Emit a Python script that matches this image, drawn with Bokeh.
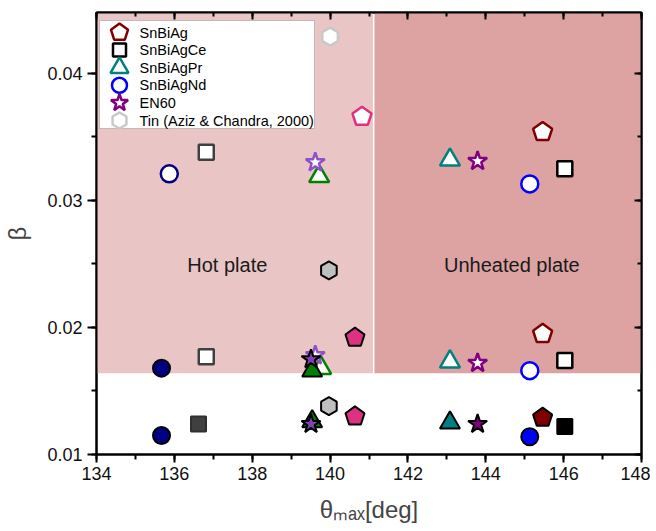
import math
from bokeh.plotting import figure
from bokeh.models import (BoxAnnotation, Label, LinearAxis, SingleIntervalTicker,
                          PrintfTickFormatter, CustomJSTickFormatter, Range1d)
from bokeh.embed import file_html
from bokeh.resources import INLINE

# ---------------- data (theta_max [deg], beta) ----------------
ag_hot_open_x = [140.82]
ag_hot_open_y = [0.0366]
ag_hot_fill_x = [140.64, 140.64]
ag_hot_fill_y = [0.0192, 0.0130]
ag_unh_open_x = [145.46, 145.46]
ag_unh_open_y = [0.0354, 0.0195]
ag_unh_fill_x = [145.46]
ag_unh_fill_y = [0.0129]

ce_hot_open_x = [136.82, 136.82]
ce_hot_open_y = [0.0338, 0.0177]
ce_hot_fill_x = [136.62]
ce_hot_fill_y = [0.0124]
ce_unh_open_x = [146.03, 146.03]
ce_unh_open_y = [0.0325, 0.0174]
ce_unh_fill_x = [146.03]
ce_unh_fill_y = [0.0122]

pr_hot_open_x = [139.72, 139.77]
pr_hot_open_y = [0.0319, 0.0168]
pr_hot_fill_x = [139.54, 139.54]
pr_hot_fill_y = [0.0166, 0.0126]
pr_unh_open_x = [143.08, 143.08]
pr_unh_open_y = [0.0332, 0.0173]
pr_unh_fill_x = [143.08]
pr_unh_fill_y = [0.0125]

nd_hot_open_x = [135.87]
nd_hot_open_y = [0.0321]
nd_hot_fill_x = [135.67, 135.67]
nd_hot_fill_y = [0.0168, 0.0115]
nd_unh_open_x = [145.13, 145.13]
nd_unh_open_y = [0.0313, 0.0166]
nd_unh_fill_x = [145.13]
nd_unh_fill_y = [0.0114]

en_hot_open_x = [139.62, 139.62]
en_hot_open_y = [0.0330, 0.0178]
en_hot_fill_x = [139.51, 139.51]
en_hot_fill_y = [0.0175, 0.0124]
en_unh_open_x = [143.79, 143.79]
en_unh_open_y = [0.0331, 0.0172]
en_unh_fill_x = [143.79]
en_unh_fill_y = [0.0124]

tin_open_x = [140.0]
tin_open_y = [0.0429]
tin_fill_x = [139.97, 139.97]
tin_fill_y = [0.0245, 0.0138]

x_ticks_interval = 2
y_ticks_interval = 0.01
region_split_x = 141.12
region_bottom_y = 0.0164

legend_labels = ["SnBiAg", "SnBiAgCe", "SnBiAgPr", "SnBiAgNd", "EN60",
                 "Tin (Aziz & Chandra, 2000)"]

FONT = "Liberation Sans"
W, H = 650, 531
BL, BR, BT, BB = 96, 9, 12, 77
FW, FH = W - BL - BR, H - BT - BB

p = figure(width=W, height=H, x_range=Range1d(134, 148), y_range=Range1d(0.01, 0.0448),
           output_backend="svg", toolbar_location=None,
           min_border_left=BL, min_border_right=BR, min_border_top=BT, min_border_bottom=BB,
           x_axis_location=None, y_axis_location=None)
p.xgrid.visible = False
p.ygrid.visible = False
p.outline_line_color = "black"
p.outline_line_width = 2
p.background_fill_color = "white"
# pixel-like ranges for the legend panel
p.extra_x_ranges = {"legx": Range1d(0, FW)}
p.extra_y_ranges = {"legy": Range1d(0, FH)}

# shaded regions
p.add_layout(BoxAnnotation(left=134, right=region_split_x - 0.02, bottom=region_bottom_y, top=0.0448,
                           fill_color="#e9c5c5", fill_alpha=1, line_alpha=0, level="underlay"))
p.add_layout(BoxAnnotation(left=region_split_x + 0.02, right=148, bottom=region_bottom_y, top=0.0448,
                           fill_color="#dda3a3", fill_alpha=1, line_alpha=0, level="underlay"))

def style_axis(ax, labels=True, inward=False):
    ax.axis_line_width = 2
    ax.major_tick_line_width = 2
    ax.minor_tick_line_width = 2
    if inward:
        ax.major_tick_in = 7
        ax.major_tick_out = 0
        ax.minor_tick_in = 4
        ax.minor_tick_out = 0
    else:
        ax.major_tick_in = 0
        ax.major_tick_out = 9
        ax.minor_tick_in = 0
        ax.minor_tick_out = 5
    ax.major_label_text_font = FONT
    ax.major_label_text_font_size = "18px"
    ax.major_label_text_color = "#111111"
    if not labels:
        ax.formatter = CustomJSTickFormatter(code="return ''")
        ax.major_label_text_font_size = "1px"
        ax.major_label_standoff = 0

xb = LinearAxis(ticker=SingleIntervalTicker(interval=x_ticks_interval, num_minor_ticks=2))
style_axis(xb)
xb.major_tick_out = 8
xb.major_label_standoff = 4
xb.axis_label = "θₘₐₓ[deg]"
xb.axis_label_text_font = FONT
xb.axis_label_text_font_size = "24px"
xb.axis_label_text_font_style = "normal"
xb.axis_label_standoff = 13
p.add_layout(xb, "below")

yl = LinearAxis(ticker=SingleIntervalTicker(interval=y_ticks_interval, num_minor_ticks=2),
                formatter=PrintfTickFormatter(format="%.2f"))
style_axis(yl)
yl.major_label_standoff = 5
yl.axis_label = "β"
yl.axis_label_text_font = FONT
yl.axis_label_text_font_size = "24px"
yl.axis_label_text_font_style = "normal"
yl.axis_label_standoff = 13
p.add_layout(yl, "left")

xt = LinearAxis(ticker=SingleIntervalTicker(interval=x_ticks_interval, num_minor_ticks=2))
style_axis(xt, labels=False, inward=True)
p.add_layout(xt, "above")
yr = LinearAxis(ticker=SingleIntervalTicker(interval=y_ticks_interval, num_minor_ticks=2))
style_axis(yr, labels=False, inward=True)
p.add_layout(yr, "right")

# region texts
p.add_layout(Label(x=137.36, y=0.0249, text="Hot plate", text_align="center", text_baseline="middle",
                   text_font=FONT, text_font_size="20px", text_color="#1a1a1a"))
p.add_layout(Label(x=144.67, y=0.0249, text="Unheated plate", text_align="center", text_baseline="middle",
                   text_font=FONT, text_font_size="20px", text_color="#1a1a1a"))

LW = 2.5

def pent(x, y, lc, fc, lw=LW, r=10, **kw):
    return p.ngon(x=x, y=y, radius=r, n=5, radius_units="screen",
                  line_color=lc, fill_color=fc, line_width=lw, **kw)

def sc(x, y, marker, size, lc, fc, lw=LW, angle=0.0, **kw):
    return p.scatter(x=x, y=y, marker=marker, size=size, line_color=lc, fill_color=fc,
                     line_width=lw, angle=angle, **kw)

HEX_ANG = math.pi / 6

# ---- hot plate (left) ----
sc(nd_hot_open_x, nd_hot_open_y, "circle", 17, "#000080", "white")
sc(nd_hot_fill_x, nd_hot_fill_y, "circle", 17, "black", "#000080", 2)
sc(ce_hot_open_x, ce_hot_open_y, "square", 15, "#404040", "white")
sc(ce_hot_fill_x, ce_hot_fill_y, "square", 15, "#303030", "#404040", 2)
sc(tin_open_x, tin_open_y, "hex", 18, "#c8c8c8", "white", angle=HEX_ANG)
sc(tin_fill_x, tin_fill_y, "hex", 18, "black", "#c0c0c0", 2, angle=HEX_ANG)
pent(ag_hot_open_x, ag_hot_open_y, "#e0307f", "white")
pent(ag_hot_fill_x, ag_hot_fill_y, "black", "#dc3282", 2)
sc(pr_hot_open_x, pr_hot_open_y, "triangle", 20, "#008000", "white")
sc(en_hot_open_x, en_hot_open_y, "star", 20, "#9050c8", "white")
sc(pr_hot_fill_x, pr_hot_fill_y, "triangle", 20, "black", "#008000", 2)
sc(en_hot_fill_x, en_hot_fill_y, "star", 20, "black", "#8040b8", 2)

# ---- unheated plate (right) ----
pent(ag_unh_open_x, ag_unh_open_y, "#800000", "white")
pent(ag_unh_fill_x, ag_unh_fill_y, "black", "#800000", 2)
sc(ce_unh_open_x, ce_unh_open_y, "square", 15, "black", "white")
sc(ce_unh_fill_x, ce_unh_fill_y, "square", 15, "black", "black", 2)
sc(pr_unh_open_x, pr_unh_open_y, "triangle", 20, "#008080", "white")
sc(pr_unh_fill_x, pr_unh_fill_y, "triangle", 20, "black", "#008080", 2)
sc(nd_unh_open_x, nd_unh_open_y, "circle", 17, "#0000ff", "white")
sc(nd_unh_fill_x, nd_unh_fill_y, "circle", 17, "black", "#0000ff", 2)
sc(en_unh_open_x, en_unh_open_y, "star", 20, "#800080", "white")
sc(en_unh_fill_x, en_unh_fill_y, "star", 20, "black", "#800080", 2)

# ---- legend (drawn in a pixel-like coordinate system of the frame) ----
LEG_L, LEG_R, LEG_T, LEG_B = 3, 218, FH - 8, FH - 116
p.add_layout(BoxAnnotation(left=LEG_L, right=LEG_R, bottom=LEG_B, top=LEG_T,
                           left_units="screen", right_units="screen",
                           bottom_units="screen", top_units="screen",
                           fill_color="white", fill_alpha=1, line_color="#555555", line_width=1,
                           level="underlay"))
row_step = 17.6
rows_y = [LEG_T - 12 - row_step * i for i in range(len(legend_labels))]
gx = [LEG_L + 20]
lkw = dict(x_range_name="legx", y_range_name="legy")
pent(gx, [rows_y[0]], "#800000", "white", 2.5, 9, **lkw)
sc(gx, [rows_y[1]], "square", 13, "black", "white", 2.5, **lkw)
sc(gx, [rows_y[2]], "triangle", 18, "#008080", "white", 2.5, **lkw)
sc(gx, [rows_y[3]], "circle", 15, "#0000ff", "white", 2.5, **lkw)
sc(gx, [rows_y[4]], "star", 18, "#800080", "white", 2.5, **lkw)
sc(gx, [rows_y[5]], "hex", 16, "#c8c8c8", "white", 2.5, angle=HEX_ANG, **lkw)
for lab, yy in zip(legend_labels, rows_y):
    p.add_layout(Label(x=LEG_L + 40, y=yy, text=lab, text_baseline="middle", text_align="left",
                       text_font=FONT, text_font_size="14.5px", text_color="black", **lkw))

open("out.html", "w").write(file_html(p, INLINE))
